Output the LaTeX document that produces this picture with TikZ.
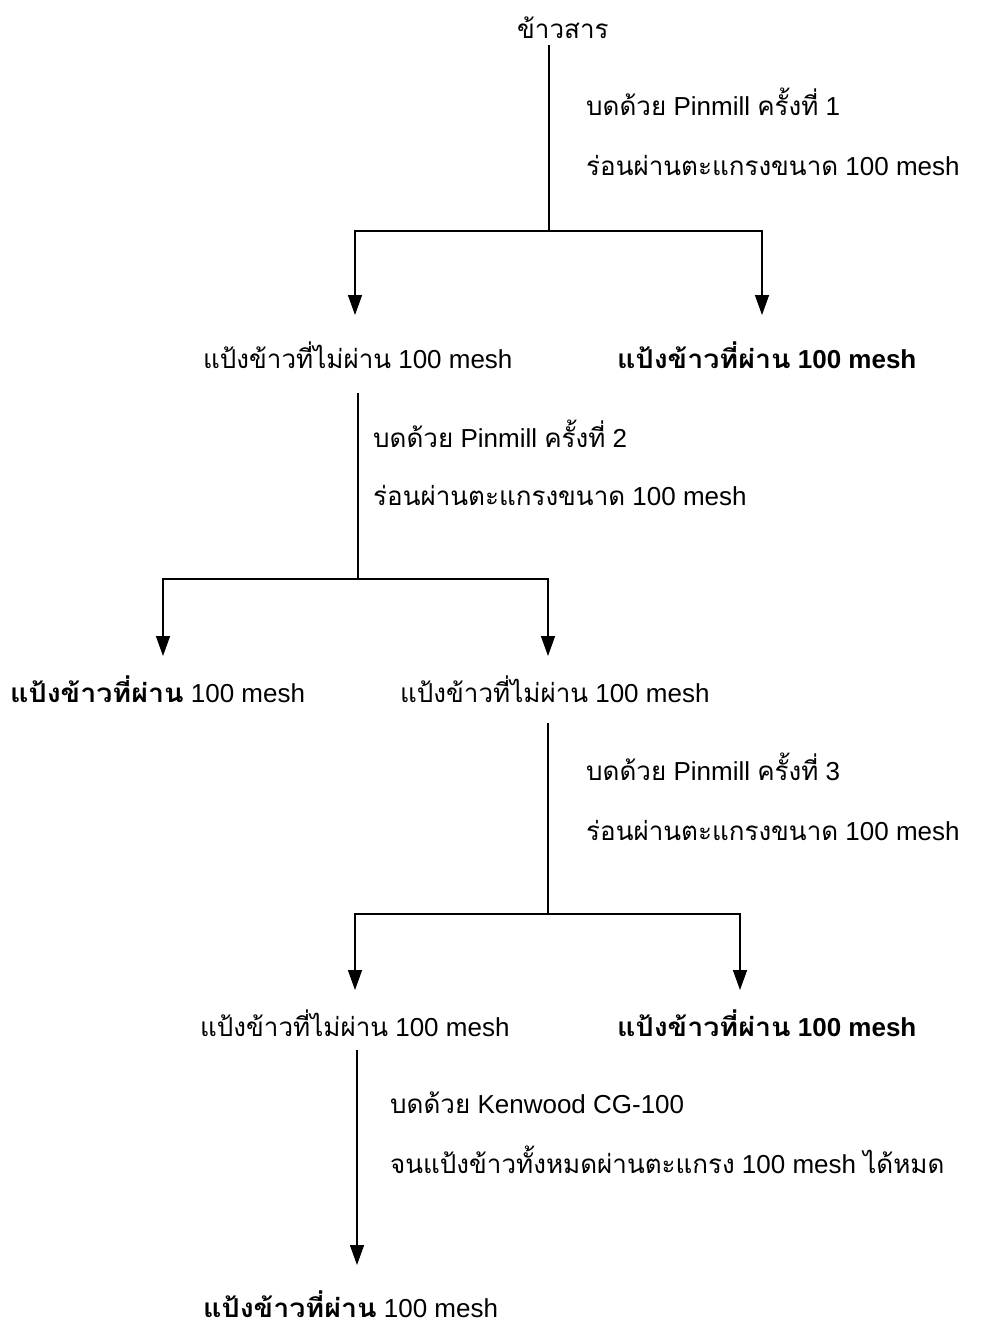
\documentclass[tikz,border=0pt]{standalone}
\usepackage{fontspec}
\setmainfont{Liberation Sans}
\newfontfamily\thai[Script=Thai]{Loma}
\newfontfamily\thaib[Script=Thai,BoldFeatures={FakeStretch=1.1}]{Loma}
\usetikzlibrary{arrows.meta}
\tikzset{
  txt/.style={anchor=base west, inner sep=0pt, font=\fontsize{26}{30}\selectfont},
  ln/.style={line width=1.5pt},
  arr/.style={line width=1.5pt, -{Triangle[width=14pt,length=20pt]}}
}
\begin{document}
\begin{tikzpicture}[x=1pt,y=-1pt]
\useasboundingbox (0,0) rectangle (982,1328);
% nodes
\node[txt] (raw) at (517,38) {\thai ข้าวสาร};
\node[txt] (l1a) at (586,115) {{\thai บดด้วย} Pinmill {\thai ครั้งที่} 1};
\node[txt] (l1b) at (586,175) {{\thai ร่อนผ่านตะแกรงขนาด} 100 mesh};
\node[txt] (n1) at (203,368) {{\thai แป้งข้าวที่ไม่ผ่าน} 100 mesh};
\node[txt] (p1) at (617,368) {{\thaib\bfseries แป้งข้าวที่ผ่าน} \textbf{100 mesh}};
\node[txt] (l2a) at (373,447) {{\thai บดด้วย} Pinmill {\thai ครั้งที่} 2};
\node[txt] (l2b) at (373,505) {{\thai ร่อนผ่านตะแกรงขนาด} 100 mesh};
\node[txt] (p2) at (10,702) {{\thaib\bfseries แป้งข้าวที่ผ่าน} 100 mesh};
\node[txt] (n2) at (400,702) {{\thai แป้งข้าวที่ไม่ผ่าน} 100 mesh};
\node[txt] (l3a) at (586,780) {{\thai บดด้วย} Pinmill {\thai ครั้งที่} 3};
\node[txt] (l3b) at (586,840) {{\thai ร่อนผ่านตะแกรงขนาด} 100 mesh};
\node[txt] (n3) at (200,1036) {{\thai แป้งข้าวที่ไม่ผ่าน} 100 mesh};
\node[txt] (p3) at (617,1036) {{\thaib\bfseries แป้งข้าวที่ผ่าน} \textbf{100 mesh}};
\node[txt] (l4a) at (390,1113) {{\thai บดด้วย} Kenwood CG-100};
\node[txt] (l4b) at (390,1173) {{\thai จนแป้งข้าวทั้งหมดผ่านตะแกรง} 100 mesh {\thai ได้หมด}};
\node[txt] (p4) at (203,1317) {{\thaib\bfseries แป้งข้าวที่ผ่าน} 100 mesh};
% connector coordinates
\coordinate (s1) at (549,45);  \coordinate (j1) at (549,231);
\coordinate (t1a) at (355,315); \coordinate (t1b) at (762,315);
\coordinate (s2) at (358,393); \coordinate (j2) at (358,579);
\coordinate (t2a) at (163,656); \coordinate (t2b) at (548,656);
\coordinate (s3) at (548,723); \coordinate (j3) at (548,914);
\coordinate (t3a) at (355,990); \coordinate (t3b) at (740,990);
\coordinate (s4) at (357,1050); \coordinate (t4) at (357,1265);
% connectors
\draw[ln] (s1) -- (j1);
\draw[arr] (j1) -| (t1a);
\draw[arr] (j1) -| (t1b);
\draw[ln] (s2) -- (j2);
\draw[arr] (j2) -| (t2a);
\draw[arr] (j2) -| (t2b);
\draw[ln] (s3) -- (j3);
\draw[arr] (j3) -| (t3a);
\draw[arr] (j3) -| (t3b);
\draw[arr] (s4) -- (t4);
\end{tikzpicture}
\end{document}
